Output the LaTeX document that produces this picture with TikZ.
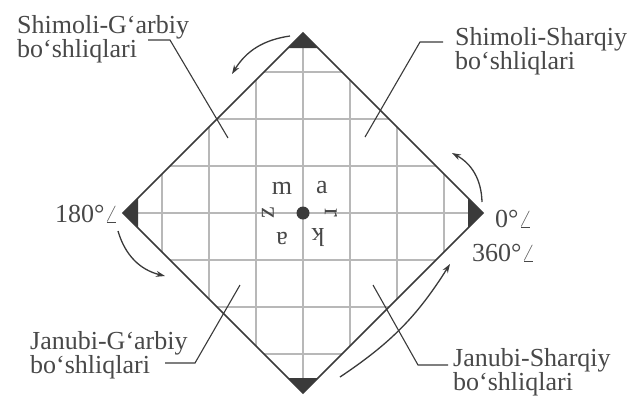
\documentclass[tikz,border=0pt]{standalone}
\usepackage{fontspec}
\setmainfont{Liberation Serif}
\usetikzlibrary{arrows.meta}
\definecolor{ink}{HTML}{3A3A3A}
\definecolor{txt}{HTML}{484848}
\definecolor{gridc}{HTML}{B8B8B8}

\begin{document}
\begin{tikzpicture}[x=1pt,y=-1pt,>={Stealth[length=9pt,width=6pt]},
  every node/.style={font=\fontsize{26}{24}\selectfont,text=txt,inner sep=0pt},
  lbl/.style={align=left,anchor=base west},
  leader/.style={draw=ink,line width=1.1pt},
  turn/.style={draw=ink,line width=1.3pt,->,bend right=#1}]
\useasboundingbox (0,0) rectangle (636,397);
% corners of the square
\coordinate (N) at (303,33);
\coordinate (W) at (123,213);
\coordinate (S) at (303,393);
\coordinate (E) at (483,213);
\coordinate (O) at (303,213);
% grid
\begin{scope}
\clip (N) -- (W) -- (S) -- (E) -- cycle;
\foreach \k in {-3,...,3}{
  \draw[gridc,line width=1.1pt] (303+47*\k,33) -- (303+47*\k,393);
  \draw[gridc,line width=1.1pt] (123,213+47*\k) -- (483,213+47*\k);
}
\end{scope}
\draw[ink,line width=1.7pt] (N) -- (W) -- (S) -- (E) -- cycle;
\fill[ink] (N) -- ++(-15,15) -- ++(30,0) -- cycle;
\fill[ink] (W) -- ++(15,-15) -- ++(0,30) -- cycle;
\fill[ink] (S) -- ++(-15,-15) -- ++(30,0) -- cycle;
\fill[ink] (E) -- ++(-15,-15) -- ++(0,30) -- cycle;
% centre
\fill[ink] (O) circle (6.5pt);
\node (m) at (282,188) {m};
\node (a1) at (322,188) {a};
\node[rotate=-90] (r) at (331,213) {r};
\node[rotate=180] (k) at (318,238) {k};
\node[rotate=180] (a2) at (282,238) {a};
\node[rotate=90] (z) at (268,213) {z};
% angles
\node[anchor=base west] (a180) at (55,222) {180°$\angle$};
\node[anchor=base west] (a0) at (495,227) {0°$\angle$};
\node[anchor=base west] (a360) at (472,261) {360°$\angle$};
% labels (base = second line)
\node[lbl] (nwl) at (17,57) {Shimoli-G‘arbiy\\bo‘shliqlari};
\node[lbl] (nel) at (455,69) {Shimoli-Sharqiy\\bo‘shliqlari};
\node[lbl] (swl) at (30,373) {Janubi-G‘arbiy\\bo‘shliqlari};
\node[lbl] (sel) at (453,390) {Janubi-Sharqiy\\bo‘shliqlari};
\coordinate (nw1) at (148,40);  \coordinate (nw2) at (170,40);  \coordinate (nw3) at (228,138);
\coordinate (ne1) at (443,42);  \coordinate (ne2) at (420,42);  \coordinate (ne3) at (365,137);
\coordinate (sw1) at (165,363); \coordinate (sw2) at (195,363); \coordinate (sw3) at (240,285);
\coordinate (se1) at (448,365); \coordinate (se2) at (418,365); \coordinate (se3) at (373,285);
\draw[leader] (nw1) -- (nw2) -- (nw3);
\draw[leader] (ne1) -- (ne2) -- (ne3);
\draw[leader] (sw1) -- (sw2) -- (sw3);
\draw[leader] (se1) -- (se2) -- (se3);
% turning arrows
\coordinate (t1) at (290,36);  \coordinate (t2) at (232,74);
\coordinate (r1) at (482,202); \coordinate (r2) at (452,153);
\coordinate (l1) at (118,231); \coordinate (l2) at (165,276);
\coordinate (b1) at (340,377); \coordinate (b2) at (450,264);
\draw[turn=25] (t1) to (t2);
\draw[turn=30] (r1) to (r2);
\draw[turn=30] (l1) to (l2);
\draw[turn=12] (b1) to (b2);
\end{tikzpicture}
\end{document}
